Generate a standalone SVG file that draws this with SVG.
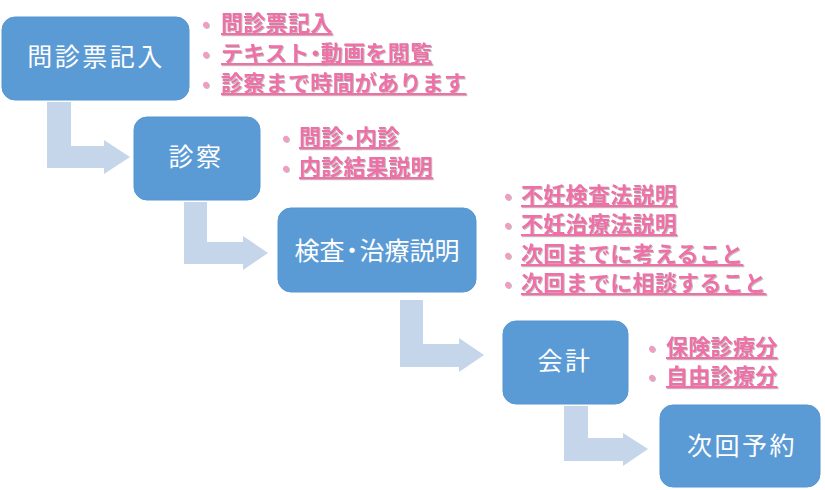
<svg xmlns="http://www.w3.org/2000/svg" width="825" height="490" viewBox="0 0 825 490">
<defs>
<style>
.box{fill:#5b9bd5;stroke:#5596d2;stroke-width:1}
.arrow{fill:#c5d5ea}
.bt{fill:#ffffff;font-family:"Noto Sans CJK JP","Noto Sans",sans-serif;font-size:25px;text-anchor:middle}
.pk{fill:#ee6fa7;font-family:"Noto Sans CJK JP","Noto Sans",sans-serif;font-size:22px;font-weight:bold;letter-spacing:0.3px;text-decoration:underline;filter:url(#sh)}
.bl{fill:#f19cc0;font-family:"Noto Sans CJK JP","Noto Sans",sans-serif;font-size:21px;font-weight:bold;filter:url(#sh)}
</style>
<filter id="sh" x="-5%" y="-20%" width="110%" height="150%">
<feDropShadow dx="1" dy="1" stdDeviation="0.6" flood-color="#8a8a8a" flood-opacity="0.55"/>
</filter>
</defs>
<g id="connectors">
<path class="arrow" d="M47,102 H71 V146 H104 V140 L130,157 L104,174 V168 H47 Z"/>
<path class="arrow" d="M184,202 H207 V242 H243 V236 L268,253 L243,270 V264 H184 Z"/>
<path class="arrow" d="M400,300 H423 V344 H459 V338 L484,355 L459,372 V367 H400 Z"/>
<path class="arrow" d="M564,406 H588 V438 H623 V433 L648,449 L623,466 V461 H564 Z"/>
</g>
<g id="node1">
<rect class="box" x="2" y="17" width="187" height="83" rx="13"/>
<text class="bt" x="96" y="66" letter-spacing="2.5">問診票記入</text>
<text class="bl" x="202" y="31">•</text><text class="pk" x="221" y="31">問診票記入</text>
<text class="bl" x="202" y="61">•</text><text class="pk" x="221" y="61">テキスト<tspan dx="-5">・</tspan><tspan dx="-6">動画を閲覧</tspan></text>
<text class="bl" x="202" y="91">•</text><text class="pk" x="221" y="91">診察まで時間があります</text>
</g>
<g id="node2">
<rect class="box" x="134" y="117" width="126" height="83" rx="13"/>
<text class="bt" x="196" y="166" letter-spacing="2.5">診察</text>
<text class="bl" x="282" y="145">•</text><text class="pk" x="299" y="145">問診<tspan dx="-5">・</tspan><tspan dx="-6">内診</tspan></text>
<text class="bl" x="282" y="175">•</text><text class="pk" x="299" y="175">内診結果説明</text>
</g>
<g id="node3">
<rect class="box" x="278" y="208" width="198" height="84" rx="13"/>
<text class="bt" x="377" y="260" font-size="24">検査<tspan dx="-5">・</tspan><tspan dx="-5">治療説明</tspan></text>
<text class="bl" x="504" y="203">•</text><text class="pk" x="521" y="203">不妊検査法説明</text>
<text class="bl" x="504" y="232">•</text><text class="pk" x="521" y="232">不妊治療法説明</text>
<text class="bl" x="504" y="262">•</text><text class="pk" x="521" y="262">次回までに考えること</text>
<text class="bl" x="504" y="291">•</text><text class="pk" x="521" y="291">次回までに相談すること</text>
</g>
<g id="node4">
<rect class="box" x="503" y="321" width="125" height="83" rx="13"/>
<text class="bt" x="565" y="370" letter-spacing="2.5">会計</text>
<text class="bl" x="648" y="355">•</text><text class="pk" x="666" y="355">保険診療分</text>
<text class="bl" x="648" y="384">•</text><text class="pk" x="666" y="384">自由診療分</text>
</g>
<g id="node5">
<rect class="box" x="660" y="405" width="160" height="82" rx="13"/>
<text class="bt" x="742" y="455" letter-spacing="2.5">次回予約</text>
</g>
</svg>
